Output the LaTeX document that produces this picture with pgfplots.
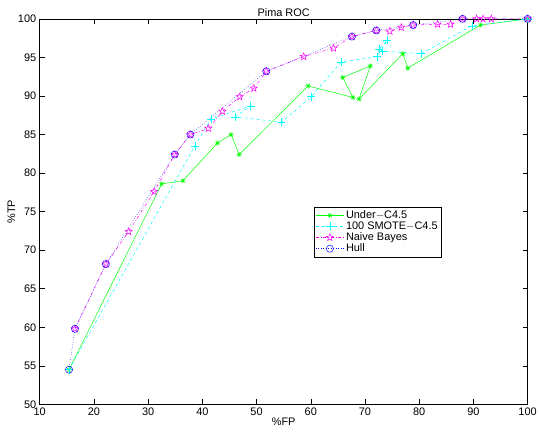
\documentclass[border=0pt]{standalone}
\usepackage{fontspec}
\setmainfont{Liberation Sans}
\usepackage{pgfplots}
\pgfplotsset{compat=1.18}
\definecolor{mgreen}{RGB}{0,255,0}
\definecolor{mcyan}{RGB}{0,255,255}
\definecolor{mmag}{RGB}{255,0,255}
\definecolor{mblue}{RGB}{0,0,255}
\pgfdeclareplotmark{pentagram}{%
  \pgfpathmoveto{\pgfqpointpolar{90}{\pgfplotmarksize}}%
  \pgfpathlineto{\pgfqpointpolar{126}{0.42\pgfplotmarksize}}%
  \pgfpathlineto{\pgfqpointpolar{162}{\pgfplotmarksize}}%
  \pgfpathlineto{\pgfqpointpolar{198}{0.42\pgfplotmarksize}}%
  \pgfpathlineto{\pgfqpointpolar{234}{\pgfplotmarksize}}%
  \pgfpathlineto{\pgfqpointpolar{270}{0.42\pgfplotmarksize}}%
  \pgfpathlineto{\pgfqpointpolar{306}{\pgfplotmarksize}}%
  \pgfpathlineto{\pgfqpointpolar{342}{0.42\pgfplotmarksize}}%
  \pgfpathlineto{\pgfqpointpolar{18}{\pgfplotmarksize}}%
  \pgfpathlineto{\pgfqpointpolar{54}{0.42\pgfplotmarksize}}%
  \pgfpathclose
  \pgfusepathqstroke}
\pgfdeclareplotmark{mstar}{%
  \pgfpathmoveto{\pgfqpoint{-\pgfplotmarksize}{0pt}}\pgfpathlineto{\pgfqpoint{\pgfplotmarksize}{0pt}}%
  \pgfpathmoveto{\pgfqpoint{0pt}{-\pgfplotmarksize}}\pgfpathlineto{\pgfqpoint{0pt}{\pgfplotmarksize}}%
  \pgfpathmoveto{\pgfqpoint{-0.707\pgfplotmarksize}{-0.707\pgfplotmarksize}}\pgfpathlineto{\pgfqpoint{0.707\pgfplotmarksize}{0.707\pgfplotmarksize}}%
  \pgfpathmoveto{\pgfqpoint{-0.707\pgfplotmarksize}{0.707\pgfplotmarksize}}\pgfpathlineto{\pgfqpoint{0.707\pgfplotmarksize}{-0.707\pgfplotmarksize}}%
  \pgfusepathqstroke}
\begin{document}
\begin{tikzpicture}
\begin{axis}[
  scale only axis,
  width=491pt, height=388pt,
  xmin=10, xmax=100, ymin=50, ymax=100,
  xtick={10,20,...,100}, ytick={50,55,...,100},
  tick align=inside,
  major tick length=5pt,
  tick style={black, line width=0.5pt},
  axis line style={black, line width=0.6pt},
  font=\fontsize{11}{13}\selectfont,
  /pgf/number format/assume math mode=true,
  title={Pima ROC},
  title style={yshift=-7pt},
  xlabel={\%FP}, ylabel={\%TP},
  xlabel style={yshift=5pt},
  ylabel style={yshift=-4pt},
  legend style={at={(axis cs:60.6,75.6)}, anchor=north west, draw=black, fill=white,
    font=\fontsize{11}{12}\selectfont, inner sep=1.5pt, row sep=-2.2pt,
    /tikz/every even column/.append style={column sep=2pt}},
  legend cell align=left,
  legend image code/.code={\draw[mark repeat=2,mark phase=2,#1] plot coordinates {(0pt,0pt)(14pt,0pt)(28pt,0pt)};},
]
\addplot[mgreen, line width=0.5pt, mark=mstar, mark size=2.6pt] coordinates {
 (15.4,54.5)(32.5,78.6)(36.4,79.0)(42.8,83.9)(45.3,85.0)(46.8,82.4)(59.5,91.3)
 (67.8,89.8)(65.9,92.4)(71.0,93.9)(68.9,89.6)(77.0,95.5)(77.9,93.6)(91.3,99.2)(100,100)};
\addlegendentry{Under$-$C4.5}
\addplot[mcyan, line width=0.5pt, dashed, mark=+, mark size=4pt, mark options={solid}] coordinates {
 (15.4,54.5)(38.6,83.5)(41.6,87.0)(48.9,88.7)(46.1,87.3)(54.6,86.6)(60.1,89.9)
 (65.6,94.4)(72.2,95.1)(74.1,97.2)(72.6,96.1)(73.2,95.8)(80.4,95.5)(89.7,99.1)(100,100)};
\addlegendentry{100 SMOTE$-$C4.5}
\addplot[mmag, line width=0.5pt, dash dot, mark=pentagram, mark size=3.8pt, mark options={solid}] coordinates {
 (16.5,59.8)(22.2,68.2)(26.4,72.4)(31.1,77.6)(34.9,82.4)(37.8,85.0)(41.1,85.8)(43.7,88.0)
 (46.9,89.9)(49.5,91.0)(51.8,93.2)(58.7,95.1)(64.2,96.2)(67.6,97.7)(72.1,98.5)(74.6,98.4)
 (76.7,98.9)(78.9,99.2)(83.4,99.3)(85.8,99.3)(88.0,100)(90.6,100)(91.8,100)(93.3,100)(100,100)};
\addlegendentry{Naive Bayes}
\addplot[mblue, line width=0.5pt, dotted, mark=o, mark size=3.6pt, mark options={solid}] coordinates {
 (15.4,54.5)(16.5,59.8)(22.2,68.2)(34.9,82.4)(37.8,85.0)(51.8,93.2)(67.6,97.7)(72.1,98.5)
 (78.9,99.2)(88.0,100)(100,100)};
\addlegendentry{Hull}
\coordinate (sw) at (rel axis cs:0,0);
\coordinate (ne) at (rel axis cs:1,1);
\end{axis}
\path ([xshift=-40pt,yshift=-27pt]sw) rectangle ([xshift=9pt,yshift=19pt]ne);
\end{tikzpicture}
\end{document}
